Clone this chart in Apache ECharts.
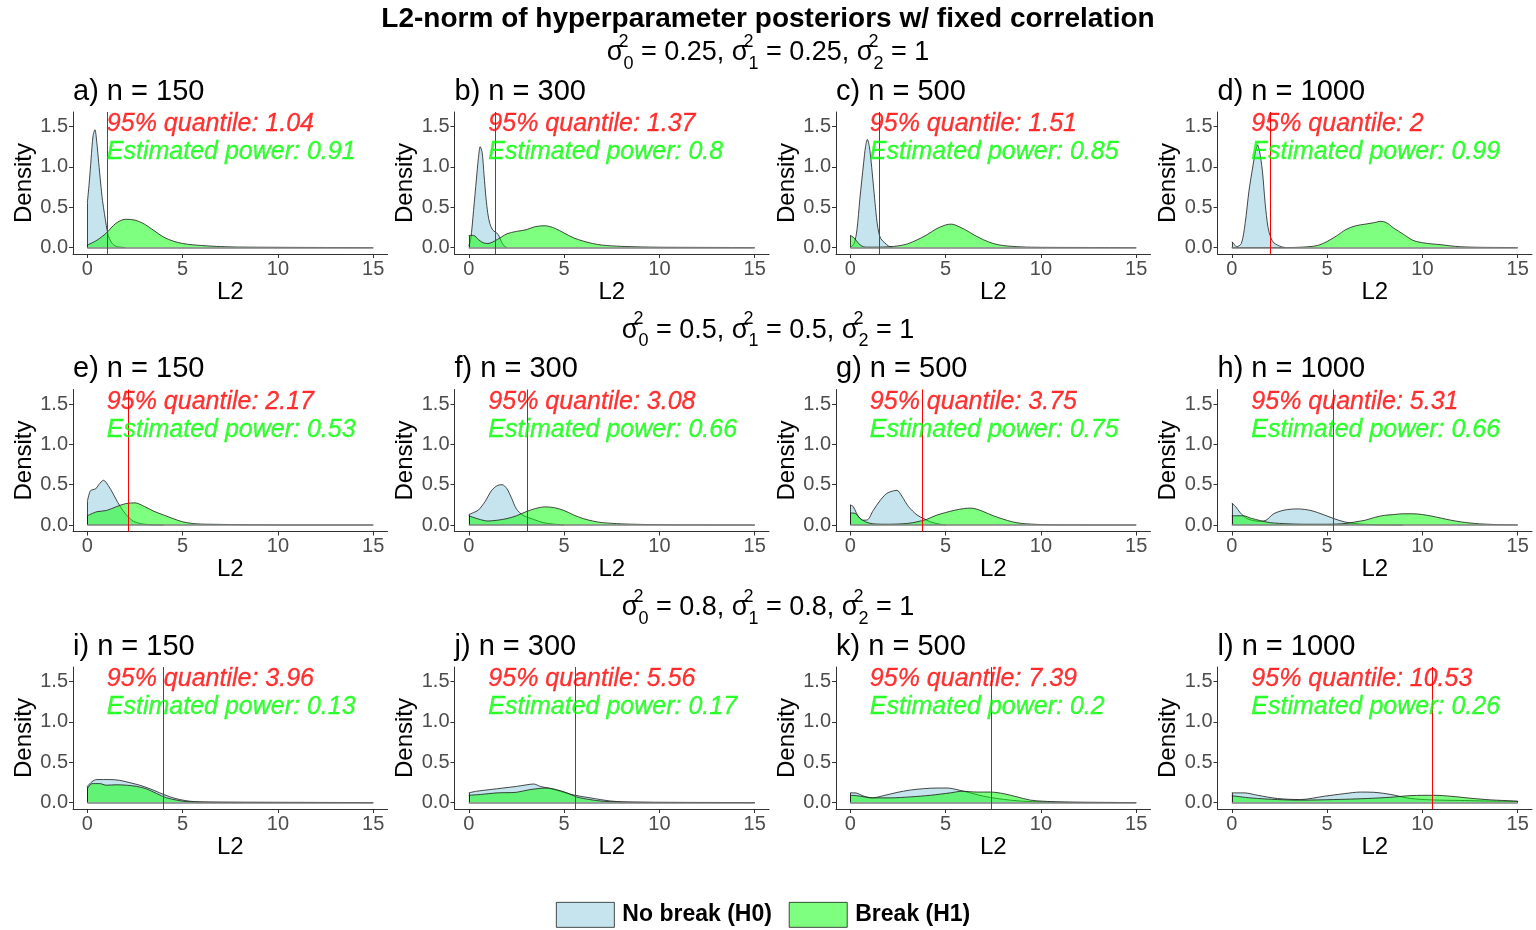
<!DOCTYPE html>
<html>
<head>
<meta charset="utf-8">
<script src="https://cdn.jsdelivr.net/npm/echarts@6/dist/echarts.min.js"></script>
<style>
  html, body { margin: 0; padding: 0; background: #ffffff; }
  #chart { width: 1536px; height: 930px; }
</style>
</head>
<body>
<div id="chart"></div>
<script>
// ---- data ----------------------------------------------------------------
const mainTitle = 'L2-norm of hyperparameter posteriors w/ fixed correlation';
const panelLetters = ['a', 'b', 'c', 'd', 'e', 'f', 'g', 'h', 'i', 'j', 'k', 'l'];
const sampleSizes = [150, 300, 500, 1000];
// sigma_0^2, sigma_1^2, sigma_2^2 for each row of panels
const rowVariances = [['0.25', '0.25', '1'], ['0.5', '0.5', '1'], ['0.8', '0.8', '1']];
const quantiles = [1.04, 1.37, 1.51, 2, 2.17, 3.08, 3.75, 5.31, 3.96, 5.56, 7.39, 10.53];
const powers = [0.91, 0.8, 0.85, 0.99, 0.53, 0.66, 0.75, 0.66, 0.13, 0.17, 0.2, 0.26];
const xTicks = [0, 5, 10, 15];
const yTicks = [0, 0.5, 1, 1.5];
const seriesNames = ['No break (H0)', 'Break (H1)'];

// Kernel density of the L2-norm under H0 (no break), one curve per panel: [L2, density]
const h0Density = [
  [[0,0.55],[0.1,0.8],[0.2,1.1],[0.3,1.38],[0.4,1.46],[0.5,1.3],[0.6,1.05],[0.7,0.8],[0.8,0.58],[0.9,0.42],[1.0,0.27],[1.1,0.15],[1.25,0.07],[1.4,0.03],[1.6,0.01],[2,0]],
  [[0,0.02],[0.1,0.1],[0.25,0.46],[0.4,0.85],[0.5,1.1],[0.6,1.25],[0.7,1.18],[0.8,0.9],[0.9,0.62],[1.0,0.42],[1.1,0.3],[1.25,0.22],[1.4,0.19],[1.55,0.16],[1.7,0.08],[1.85,0.02],[2,0]],
  [[0,0],[0.2,0.05],[0.35,0.22],[0.5,0.6],[0.7,1.05],[0.8,1.25],[0.9,1.34],[1.0,1.25],[1.1,1.05],[1.2,0.8],[1.3,0.55],[1.4,0.32],[1.5,0.18],[1.6,0.11],[1.8,0.06],[2.0,0.02],[2.2,0]],
  [[0,0.07],[0.1,0.05],[0.25,0.01],[0.5,0.05],[0.7,0.3],[0.9,0.7],[1.1,1.0],[1.25,1.2],[1.35,1.27],[1.45,1.2],[1.6,0.96],[1.75,0.55],[1.9,0.25],[2.05,0.12],[2.2,0.06],[2.4,0.03],[2.6,0.01],[2.8,0]],
  [[0,0.29],[0.15,0.42],[0.3,0.44],[0.45,0.45],[0.6,0.5],[0.85,0.555],[1.1,0.49],[1.35,0.39],[1.6,0.28],[1.9,0.17],[2.15,0.1],[2.4,0.05],[2.75,0.02],[3.2,0.005],[4,0]],
  [[0,0.13],[0.25,0.155],[0.5,0.185],[0.85,0.29],[1.2,0.43],[1.5,0.49],[1.75,0.5],[2.0,0.45],[2.25,0.33],[2.5,0.2],[2.85,0.12],[3.4,0.07],[3.9,0.03],[4.5,0.01],[5,0]],
  [[0,0.25],[0.15,0.23],[0.3,0.16],[0.45,0.1],[0.65,0.06],[0.9,0.065],[1.2,0.18],[1.55,0.3],[1.9,0.39],[2.2,0.42],[2.45,0.43],[2.7,0.36],[3.05,0.23],[3.5,0.125],[3.85,0.08],[4.2,0.04],[4.6,0.015],[5,0]],
  [[0,0.27],[0.2,0.23],[0.45,0.15],[0.8,0.08],[1.15,0.055],[1.5,0.045],[1.8,0.06],[2.2,0.14],[2.75,0.185],[3.45,0.2],[4.15,0.18],[4.85,0.125],[5.35,0.08],[5.9,0.04],[6.4,0.02],[7,0.008],[8,0.002],[9,0]],
  [[0,0.2],[0.25,0.26],[0.5,0.285],[1.2,0.285],[1.7,0.275],[2.25,0.245],[2.75,0.215],[3.3,0.17],[3.8,0.12],[4.35,0.07],[4.85,0.037],[5.4,0.016],[5.9,0.008],[7,0.004],[10,0.002],[15,0]],
  [[0,0.12],[0.4,0.14],[1.1,0.16],[1.8,0.18],[2.5,0.2],[3.05,0.22],[3.4,0.23],[3.75,0.2],[4.25,0.175],[4.8,0.14],[5.3,0.105],[5.85,0.078],[6.4,0.057],[6.9,0.037],[7.4,0.02],[8.1,0.008],[9,0.004],[10,0.002],[15,0]],
  [[0,0.12],[0.25,0.12],[0.7,0.08],[1.15,0.058],[1.75,0.086],[2.45,0.125],[3.15,0.155],[3.85,0.172],[4.55,0.18],[5.1,0.18],[5.6,0.16],[6.3,0.12],[7,0.078],[7.7,0.05],[8.4,0.03],[9.1,0.016],[10,0.008],[11,0.004],[12,0.002],[15,0]],
  [[0,0.12],[0.65,0.12],[1.35,0.09],[2.4,0.05],[3.6,0.037],[4.85,0.078],[5.9,0.11],[6.75,0.13],[7.45,0.127],[8.35,0.1],[9.2,0.057],[10.1,0.037],[11.15,0.029],[12.2,0.025],[13.25,0.02],[14.1,0.016],[15,0.012]]
];

// Kernel density of the L2-norm under H1 (break), one curve per panel: [L2, density]
const h1Density = [
  [[0,0.03],[0.5,0.09],[1,0.18],[1.5,0.3],[2,0.35],[2.5,0.34],[3,0.29],[3.5,0.21],[4,0.13],[4.5,0.08],[5,0.05],[5.5,0.035],[6,0.025],[7,0.012],[8,0.006],[10,0.003],[12,0.001],[15,0]],
  [[0,0.15],[0.25,0.15],[0.5,0.1],[0.75,0.06],[1,0.05],[1.5,0.1],[2,0.17],[2.5,0.2],[3,0.22],[3.5,0.26],[4,0.27],[4.5,0.24],[5,0.18],[5.5,0.12],[6,0.08],[6.5,0.05],[7,0.03],[8,0.015],[9,0.008],[10,0.004],[12,0.002],[15,0]],
  [[0,0.15],[0.2,0.12],[0.4,0.06],[0.6,0.02],[0.8,0.005],[1.5,0.005],[2,0.01],[2.5,0.02],[3,0.045],[3.5,0.095],[4,0.155],[4.5,0.23],[5,0.28],[5.3,0.29],[5.5,0.28],[6,0.225],[6.5,0.155],[7,0.095],[7.5,0.05],[8,0.025],[9,0.008],[10,0.003],[12,0.001],[15,0]],
  [[0,0],[3,0],[3.5,0.003],[4,0.01],[4.5,0.025],[5,0.075],[5.5,0.145],[6,0.225],[6.5,0.27],[7,0.29],[7.5,0.31],[7.8,0.325],[8.1,0.31],[8.5,0.24],[9,0.165],[9.5,0.09],[10,0.06],[10.5,0.045],[11,0.035],[11.5,0.02],[12,0.01],[13,0.003],[15,0]],
  [[0,0.115],[0.5,0.165],[1,0.18],[1.5,0.225],[2,0.265],[2.5,0.275],[3,0.23],[3.5,0.17],[4,0.125],[4.5,0.08],[5,0.04],[5.5,0.02],[6,0.012],[7,0.008],[8,0.005],[9,0.003],[10,0.001],[15,0]],
  [[0,0.115],[0.5,0.075],[1,0.05],[1.5,0.06],[2,0.08],[2.5,0.115],[3,0.165],[3.5,0.205],[4,0.225],[4.5,0.215],[5,0.18],[5.5,0.125],[6,0.08],[6.5,0.05],[7,0.03],[8,0.015],[9,0.008],[10,0.004],[11,0.002],[15,0]],
  [[0,0.15],[0.25,0.145],[0.5,0.085],[0.8,0.04],[1.2,0.015],[2,0.01],[3,0.02],[3.5,0.04],[4,0.07],[4.5,0.12],[5,0.155],[5.5,0.185],[6,0.205],[6.3,0.21],[6.6,0.2],[7,0.165],[7.5,0.115],[8,0.075],[8.5,0.04],[9,0.02],[10,0.006],[11,0.002],[15,0]],
  [[0,0.115],[0.6,0.115],[1,0.085],[1.5,0.055],[2,0.03],[3,0.015],[4,0.01],[5,0.01],[6,0.02],[6.5,0.04],[7,0.06],[7.5,0.095],[8,0.12],[8.5,0.13],[9,0.14],[9.5,0.14],[10,0.13],[10.5,0.11],[11,0.085],[11.5,0.06],[12,0.04],[12.5,0.025],[13,0.015],[14,0.005],[15,0.002]],
  [[0,0.17],[0.25,0.235],[0.65,0.235],[1,0.215],[1.55,0.22],[2.05,0.215],[2.6,0.2],[3.1,0.17],[3.65,0.11],[4.15,0.06],[4.7,0.03],[5.2,0.012],[6,0.006],[8,0.003],[12,0.001],[15,0]],
  [[0,0.09],[0.6,0.1],[1.5,0.12],[2.5,0.127],[3.2,0.16],[4.1,0.18],[4.6,0.16],[5.15,0.12],[5.65,0.07],[6.35,0.037],[7.05,0.016],[7.75,0.008],[9,0.004],[10,0.002],[15,0]],
  [[0,0.09],[0.35,0.085],[1.15,0.058],[2.1,0.058],[3.15,0.07],[4.2,0.09],[5.25,0.12],[5.85,0.14],[6.65,0.13],[7.35,0.13],[8.05,0.11],[8.75,0.07],[9.45,0.03],[10.15,0.016],[11,0.008],[12,0.004],[13,0.002],[15,0]],
  [[0,0.085],[1,0.057],[2.4,0.037],[3.6,0.03],[5.35,0.037],[7.1,0.05],[8.35,0.066],[9.4,0.086],[10.6,0.09],[11.5,0.078],[12.55,0.053],[13.6,0.033],[14.8,0.02],[15,0.018]]
];

// ---- styling -------------------------------------------------------------
const FONT = '"Liberation Sans", Arial, Helvetica, sans-serif';
const H0_FILL = 'rgba(173,216,230,0.7)';
const H1_FILL = 'rgba(0,255,0,0.5)';
const OUTLINE = '#1a1a1a';

const grids = [], xAxes = [], yAxes = [], series = [];
const titles = [{
  text: mainTitle, left: 'center', top: 5, padding: 0,
  textStyle: { fontFamily: FONT, fontWeight: 'bold', fontSize: 28, lineHeight: 28, color: '#000' }
}];

// row headers with stacked super/subscripts
const scriptRich = {
  s: { fontFamily: FONT, fontWeight: 'normal', fontSize: 27, lineHeight: 40, color: '#000' },
  t: { fontFamily: FONT, fontWeight: 'normal', fontSize: 27, lineHeight: 40, color: '#000' },
  sup: { fontFamily: FONT, fontWeight: 'normal', fontSize: 18, lineHeight: 20, verticalAlign: 'top', width: 0, color: '#000' },
  sub: { fontFamily: FONT, fontWeight: 'normal', fontSize: 18, lineHeight: 20, verticalAlign: 'bottom', color: '#000' }
};
rowVariances.forEach((v, r) => {
  const term = (k, val, last) => `{s|σ}{sup|2}{sub|${k}}{t| = ${val}${last ? '' : ', '}}`;
  titles.push({
    text: term(0, v[0]) + term(1, v[1]) + term(2, v[2], true),
    left: 'center', top: 33 + r * 277.5, padding: 0,
    textStyle: { fontWeight: 'normal', rich: scriptRich }
  });
});

// vertical outline edges where a density curve starts/ends above zero
function edgeLines(curve) {
  const out = [];
  const first = curve[0], last = curve[curve.length - 1];
  if (first[1] > 0) out.push([{ coord: [first[0], 0] }, { coord: [first[0], first[1]] }]);
  if (last[1] > 0) out.push([{ coord: [last[0], 0] }, { coord: [last[0], last[1]] }]);
  return out;
}

for (let p = 0; p < 12; p++) {
  const r = Math.floor(p / 4), c = p % 4;
  const left = 73 + c * 381.5;
  const top = 112 + r * 277.5;
  grids.push({ left: left, top: top, width: 314.5, height: 142, containLabel: false, outerBoundsMode: 'none' });

  titles.push({
    text: `${panelLetters[p]}) n = ${sampleSizes[c]}`,
    left: left, top: top - 35, padding: 0,
    textStyle: { fontFamily: FONT, fontWeight: 'normal', fontSize: 29, lineHeight: 29, color: '#000' }
  });

  xAxes.push({
    gridIndex: p, type: 'value', min: -0.75, max: 15.75,
    name: 'L2', nameLocation: 'middle', nameGap: 26,
    nameTextStyle: { fontFamily: FONT, fontSize: 24, color: '#000' },
    axisLine: { show: true, onZero: false, lineStyle: { color: '#333', width: 1 } },
    axisTick: { show: true, length: 4, customValues: xTicks, lineStyle: { color: '#333' } },
    axisLabel: { customValues: xTicks, margin: 5, fontFamily: FONT, fontSize: 20, color: '#4d4d4d' },
    splitLine: { show: false }
  });
  yAxes.push({
    gridIndex: p, type: 'value', min: -0.08, max: 1.68,
    name: 'Density', nameLocation: 'middle', nameGap: 37,
    nameTextStyle: { fontFamily: FONT, fontSize: 24, color: '#000' },
    axisLine: { show: true, onZero: false, lineStyle: { color: '#333', width: 1 } },
    axisTick: { show: true, length: 4, customValues: yTicks, lineStyle: { color: '#333' } },
    axisLabel: { customValues: yTicks, margin: 5, fontFamily: FONT, fontSize: 20, color: '#4d4d4d',
                 formatter: v => Number(v).toFixed(1) },
    splitLine: { show: false }
  });

  const densityLine = (name, data, fill, z) => ({
    type: 'line', name: name, xAxisIndex: p, yAxisIndex: p, data: data,
    smooth: 0.3, showSymbol: false, symbol: 'none', silent: true, z: z,
    lineStyle: { color: OUTLINE, width: 0.8 },
    itemStyle: { color: fill },
    areaStyle: { color: fill, opacity: 1 },
    markLine: {
      symbol: 'none', silent: true, label: { show: false },
      lineStyle: { color: OUTLINE, width: 0.8, type: 'solid' },
      data: edgeLines(data)
    }
  });
  series.push(densityLine(seriesNames[0], h0Density[p], H0_FILL, 2));
  series.push(densityLine(seriesNames[1], h1Density[p], H1_FILL, 3));

  // shared baseline under both densities
  series.push({
    type: 'line', xAxisIndex: p, yAxisIndex: p, data: [], silent: true, z: 4,
    markLine: {
      symbol: 'none', silent: true, label: { show: false },
      lineStyle: { color: '#808080', width: 1.5, type: 'solid' },
      data: [[{ coord: [0, 0] }, { coord: [15, 0] }]]
    }
  });

  // 95% quantile line and the annotation texts
  series.push({
    type: 'scatter', xAxisIndex: p, yAxisIndex: p, symbolSize: 1, silent: true, z: 5,
    itemStyle: { color: 'rgba(0,0,0,0)' },
    label: { show: true, position: 'right', distance: 0, fontFamily: FONT, fontStyle: 'italic', fontSize: 25 },
    data: [
      { value: [1, 1.53], label: { formatter: `95% quantile: ${quantiles[p]}`, color: '#ff0000',
                                   textBorderColor: '#ff0000', textBorderWidth: 0.3 } },
      { value: [1, 1.18], label: { formatter: `Estimated power: ${powers[p]}`, color: '#00ff00',
                                   textBorderColor: '#00ff00', textBorderWidth: 0.3 } }
    ],
    markLine: {
      symbol: 'none', silent: true, label: { show: false },
      lineStyle: { color: '#ff0000', width: 1, type: 'solid' },
      data: [{ xAxis: quantiles[p] }]
    }
  });
}

const chart = echarts.init(document.getElementById('chart'), null, { renderer: 'canvas' });
chart.setOption({
  backgroundColor: '#ffffff',
  animation: false,
  title: titles,
  legend: {
    left: 551, top: 897, orient: 'horizontal',
    itemWidth: 58, itemHeight: 25, itemGap: 17,
    textStyle: { fontFamily: FONT, fontWeight: 'bold', fontSize: 23, color: '#000', padding: [0, 0, 0, 3] },
    data: [
      { name: seriesNames[0], icon: 'rect', itemStyle: { color: H0_FILL, borderColor: '#000', borderWidth: 0.7 } },
      { name: seriesNames[1], icon: 'rect', itemStyle: { color: H1_FILL, borderColor: '#000', borderWidth: 0.7 } }
    ]
  },
  grid: grids,
  xAxis: xAxes,
  yAxis: yAxes,
  series: series
});
</script>
</body>
</html>
